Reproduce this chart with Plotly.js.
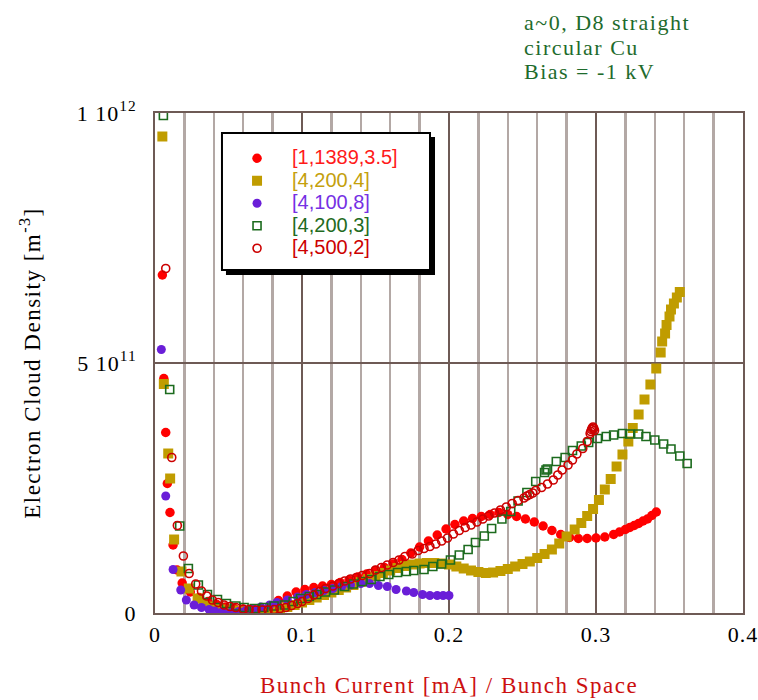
<!DOCTYPE html>
<html>
<head>
<meta charset="utf-8">
<script src="https://cdn.plot.ly/plotly-3.0.1.min.js"></script>
<style>html,body{margin:0;padding:0;background:#fff;}#chart{width:758px;height:700px;}</style>
</head>
<body>
<div id="chart"></div>
<script>
// Electron cloud density in units of 1e11 m^-3
var seriesNames = ['[1,1389,3.5]', '[4,200,4]', '[4,100,8]', '[4,200,3]', '[4,500,2]'];

var x_1_1389 = [0.005,0.006,0.0073,0.0084,0.0102,0.0123,0.015,0.0185,0.024,0.030,0.036,0.042,0.048,0.054,0.060,0.066,0.072,0.078,0.084,0.090,0.096,0.102,0.108,0.114,0.120,0.126,0.132,0.138,0.144,0.150,0.156,0.162,0.168,0.174,0.180,0.186,0.192,0.198,0.204,0.210,0.216,0.222,0.228,0.234,0.240,0.246,0.252,0.258,0.264,0.270,0.276,0.282,0.288,0.294,0.300,0.306,0.312,0.316,0.320,0.323,0.326,0.329,0.332,0.335,0.338,0.341];
var y_1_1389 = [6.76,4.69,3.61,2.59,2.01,1.36,0.86,0.60,0.42,0.31,0.23,0.17,0.12,0.09,0.07,0.07,0.09,0.14,0.25,0.34,0.42,0.47,0.51,0.54,0.57,0.61,0.66,0.72,0.78,0.85,0.91,0.98,1.07,1.20,1.32,1.44,1.56,1.68,1.77,1.84,1.89,1.93,1.97,2.01,1.97,1.93,1.88,1.82,1.74,1.65,1.57,1.51,1.49,1.49,1.50,1.52,1.57,1.62,1.67,1.71,1.75,1.79,1.84,1.88,1.95,2.02];

var x_4_200_4 = [0.005,0.006,0.009,0.0103,0.013,0.018,0.023,0.029,0.033,0.038,0.043,0.048,0.053,0.058,0.064,0.070,0.075,0.080,0.085,0.090,0.095,0.100,0.105,0.110,0.115,0.120,0.125,0.130,0.135,0.140,0.145,0.150,0.155,0.160,0.165,0.170,0.175,0.180,0.185,0.190,0.195,0.200,0.205,0.210,0.215,0.220,0.225,0.230,0.235,0.240,0.245,0.250,0.255,0.260,0.265,0.270,0.275,0.280,0.2855,0.290,0.294,0.298,0.302,0.306,0.310,0.314,0.318,0.322,0.325,0.329,0.333,0.337,0.341,0.344,0.345,0.347,0.348,0.350,0.351,0.353,0.355,0.357];
var y_4_200_4 = [9.53,4.58,3.19,2.69,1.47,0.83,0.49,0.29,0.19,0.13,0.09,0.07,0.05,0.03,0.02,0.02,0.03,0.05,0.08,0.12,0.16,0.21,0.26,0.31,0.36,0.41,0.46,0.51,0.56,0.62,0.68,0.74,0.80,0.85,0.90,0.94,0.97,0.99,1.00,1.00,0.99,0.97,0.93,0.89,0.85,0.82,0.80,0.81,0.84,0.88,0.93,0.98,1.03,1.10,1.18,1.27,1.39,1.53,1.67,1.80,1.94,2.08,2.26,2.47,2.68,2.93,3.17,3.43,3.70,3.97,4.27,4.57,4.89,5.21,5.43,5.59,5.76,5.93,6.07,6.19,6.31,6.42];

var x_4_100_8 = [0.0043,0.0073,0.0123,0.0175,0.0213,0.0266,0.0316,0.0368,0.0407,0.046,0.052,0.057,0.062,0.067,0.072,0.078,0.083,0.090,0.097,0.103,0.109,0.115,0.121,0.127,0.133,0.140,0.146,0.152,0.158,0.164,0.171,0.176,0.182,0.187,0.192,0.196,0.200];
var y_4_100_8 = [5.27,2.34,0.87,0.46,0.26,0.16,0.11,0.07,0.04,0.03,0.02,0.03,0.05,0.08,0.12,0.16,0.21,0.26,0.32,0.37,0.41,0.45,0.49,0.53,0.56,0.59,0.59,0.55,0.53,0.47,0.44,0.41,0.37,0.35,0.35,0.35,0.35];

var x_4_200_3 = [0.0057,0.010,0.0168,0.0227,0.0295,0.0357,0.0425,0.0486,0.055,0.0606,0.0675,0.074,0.081,0.088,0.094,0.099,0.105,0.110,0.116,0.122,0.129,0.135,0.141,0.147,0.153,0.159,0.165,0.171,0.176,0.183,0.189,0.195,0.201,0.207,0.213,0.218,0.224,0.229,0.236,0.242,0.247,0.253,0.259,0.265,0.266,0.267,0.273,0.279,0.284,0.290,0.295,0.301,0.307,0.312,0.318,0.323,0.329,0.334,0.340,0.346,0.351,0.357,0.362];
var y_4_200_3 = [9.95,4.47,1.74,0.89,0.56,0.37,0.27,0.19,0.14,0.11,0.09,0.11,0.14,0.16,0.23,0.29,0.33,0.37,0.42,0.46,0.53,0.58,0.63,0.67,0.73,0.77,0.81,0.83,0.85,0.87,0.93,0.98,1.06,1.16,1.27,1.41,1.54,1.69,1.88,2.03,2.24,2.41,2.63,2.81,2.86,2.88,3.03,3.11,3.25,3.34,3.41,3.49,3.53,3.56,3.59,3.58,3.58,3.53,3.46,3.38,3.28,3.14,2.99];

var x_4_500_2 = [0.0073,0.0114,0.0152,0.0193,0.0232,0.0277,0.0316,0.0352,0.039,0.043,0.047,0.051,0.055,0.060,0.064,0.0686,0.073,0.077,0.081,0.085,0.089,0.093,0.097,0.100,0.104,0.108,0.112,0.116,0.121,0.125,0.129,0.133,0.137,0.141,0.146,0.150,0.154,0.158,0.162,0.166,0.170,0.175,0.179,0.183,0.187,0.191,0.195,0.199,0.203,0.207,0.211,0.215,0.219,0.223,0.227,0.231,0.235,0.239,0.243,0.247,0.251,0.253,0.255,0.257,0.259,0.263,0.267,0.271,0.274,0.277,0.281,0.284,0.287,0.291,0.294,0.296,0.2965,0.297,0.2975,0.298,0.2985,0.299];
var y_4_500_2 = [6.89,3.11,1.75,1.14,0.79,0.58,0.44,0.34,0.26,0.21,0.16,0.13,0.11,0.08,0.07,0.06,0.06,0.06,0.07,0.09,0.11,0.15,0.19,0.23,0.29,0.36,0.43,0.49,0.54,0.59,0.64,0.68,0.71,0.75,0.79,0.86,0.91,0.96,1.01,1.06,1.13,1.18,1.25,1.29,1.33,1.38,1.44,1.50,1.58,1.65,1.71,1.76,1.82,1.88,1.94,2.00,2.06,2.12,2.19,2.25,2.30,2.34,2.37,2.40,2.45,2.51,2.58,2.66,2.76,2.86,2.96,3.06,3.18,3.29,3.43,3.59,3.63,3.67,3.70,3.72,3.69,3.65];

var xTickVals = [0, 0.1, 0.2, 0.3, 0.4];
var xTickText = ['0', '0.1', '0.2', '0.3', '0.4'];
var yTickVals = [0, 5, 10];
var yTickText = ['0', '5 10<sup>11</sup>', '1 10<sup>12</sup>'];
var noteLines = ['a~0, D8 straight', 'circular Cu', 'Bias = -1 kV'];

var legendColors = ['#ff1a1a', '#c4a00c', '#7530e4', '#1f6b22', '#cc0000'];

function nm(i) { return '<span style="color:' + legendColors[i] + ';font-size:20px">' + seriesNames[i] + '</span>'; }
function wide(t, s) { return '<span style="letter-spacing:' + s + 'px">' + t + '</span>'; }

var traces = [
  {x: x_1_1389, y: y_1_1389, name: nm(0), type: 'scatter', mode: 'markers',
   marker: {symbol: 'circle', size: 9.5, color: '#ff0000', line: {width: 0}}},
  {x: x_4_200_4, y: y_4_200_4, name: nm(1), type: 'scatter', mode: 'markers',
   marker: {symbol: 'square', size: 10, color: '#c09c00', line: {width: 0}}},
  {x: x_4_100_8, y: y_4_100_8, name: nm(2), type: 'scatter', mode: 'markers',
   marker: {symbol: 'circle', size: 9, color: '#6a1ed8', line: {width: 0}}},
  {x: x_4_200_3, y: y_4_200_3, name: nm(3), type: 'scatter', mode: 'markers',
   marker: {symbol: 'square-open', size: 8, color: '#1c6b1e', line: {width: 1.6}}},
  {x: x_4_500_2, y: y_4_500_2, name: nm(4), type: 'scatter', mode: 'markers',
   marker: {symbol: 'circle-open', size: 8, color: '#cc0000', line: {width: 1.6}}}
];

var serif = 'Liberation Serif, Times New Roman, serif';
var frame = '#6e5a55';

var noteY = [1.182, 1.132, 1.082];
var annotations = noteLines.map(function (t, i) {
  return {xref: 'paper', yref: 'paper', x: 0.624, y: noteY[i], xanchor: 'left', yanchor: 'middle', align: 'left',
    showarrow: false, text: wide(t, 1.5), font: {family: serif, size: 22, color: '#1e6b2c'}};
});

var layout = {
  width: 758, height: 700,
  margin: {l: 155, r: 15, t: 113, b: 87},
  paper_bgcolor: '#ffffff', plot_bgcolor: '#ffffff',
  showlegend: true,
  legend: {
    x: 0.114, y: 0.942, xanchor: 'left', yanchor: 'top',
    bgcolor: 'rgba(0,0,0,0)', borderwidth: 0,
    font: {family: 'Liberation Sans, Arial, sans-serif', size: 15, color: '#000'},
    itemwidth: 60, tracegroupgap: 0
  },
  xaxis: {
    range: [0, 0.4], tickvals: xTickVals, ticktext: xTickText.map(function (t) { return wide(t, 1); }), ticks: '',
    ticklabeloverflow: 'allow',
    showgrid: true, gridcolor: frame, gridwidth: 1.5,
    minor: {dtick: 0.02, showgrid: true, gridcolor: '#b3a8a5', gridwidth: 2.5, ticks: ''},
    zeroline: false, showline: true, mirror: true, linecolor: frame, linewidth: 2,
    tickfont: {family: serif, size: 22, color: '#000'}, ticklabelstandoff: 1,
    title: {text: wide('Bunch Current [mA] / Bunch Space', 1.5), font: {family: serif, size: 23, color: '#cc1010'}, standoff: 30}
  },
  yaxis: {
    range: [0, 10], tickvals: yTickVals, ticktext: yTickText.map(function (t) { return wide(t, 1); }), ticks: '',
    ticklabeloverflow: 'allow',
    showgrid: true, gridcolor: frame, gridwidth: 1.5,
    zeroline: false, showline: true, mirror: true, linecolor: frame, linewidth: 2,
    tickfont: {family: serif, size: 22, color: '#000'}, ticklabelstandoff: 12,
    title: {text: wide('Electron Cloud Density [m<sup>-3</sup>]', 1.5), font: {family: serif, size: 23, color: '#000'}, standoff: 30}
  },
  shapes: [
    {type: 'rect', xref: 'paper', yref: 'paper', x0: 0.1207, x1: 0.4762, y0: 0.676, y1: 0.952,
     fillcolor: '#000000', line: {width: 0}, layer: 'above'},
    {type: 'rect', xref: 'paper', yref: 'paper', x0: 0.1139, x1: 0.4677, y0: 0.686, y1: 0.96,
     fillcolor: '#ffffff', line: {width: 2, color: '#000000'}, layer: 'above'}
  ],
  annotations: annotations
};

Plotly.newPlot('chart', traces, layout, {displayModeBar: false, staticPlot: true});
</script>
</body>
</html>
